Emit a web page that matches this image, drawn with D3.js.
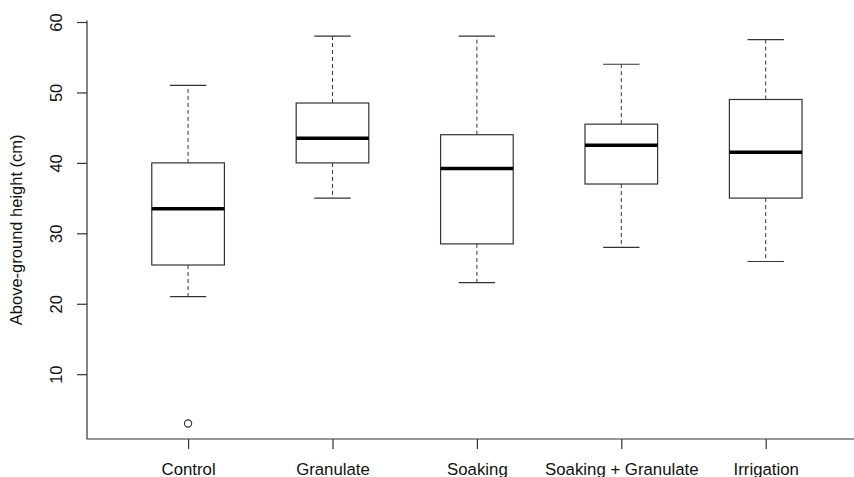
<!DOCTYPE html>
<html>
<head>
<meta charset="utf-8">
<script src="https://cdn.jsdelivr.net/npm/d3@7"></script>
<style>
  body { margin: 0; background: #fff; }
  text { font-family: "Liberation Sans", Arial, sans-serif; fill: #111; }
</style>
</head>
<body>
<div id="chart"></div>
<script>
const width = 854;
const height = 477;

// data
const groups = ["Control", "Granulate", "Soaking", "Soaking + Granulate", "Irrigation"];
const lowerWhisker = [21, 35, 23, 28, 26];
const q1 = [25.5, 40, 28.5, 37, 35];
const medians = [33.5, 43.5, 39.2, 42.5, 41.5];
const q3 = [40, 48.5, 44, 45.5, 49];
const upperWhisker = [51, 58, 58, 54, 57.5];
const outlierGroups = ["Control"];
const outlierValues = [3];
const yTicks = [10, 20, 30, 40, 50, 60];

const boxes = groups.map((g, i) => ({
    name: g, lo: lowerWhisker[i], q1: q1[i], med: medians[i], q3: q3[i], hi: upperWhisker[i]
}));

const x = d3.scalePoint()
    .domain(groups)
    .range([87, 866.8])
    .padding(0.7);

const y = d3.scaleLinear()
    .domain([0.8, 60.2])
    .range([439, 20.6]);

const boxW = x.step() * 0.503;
const capW = boxW / 2;
const lineCol = "#333";

const svg = d3.select("#chart")
    .append("svg")
        .attr("width", width)
        .attr("height", height);

// L-shaped frame
svg.append("path")
    .attr("d", `M${x.range()[0]},${y.range()[1]}V${y.range()[0]}H${x.range()[1]}`)
    .attr("fill", "none")
    .attr("stroke", lineCol)
    .attr("stroke-width", 1.2);

// y axis
const yAxis = svg.append("g")
    .attr("transform", `translate(${x.range()[0]},0)`)
    .call(d3.axisLeft(y).tickValues(yTicks).tickSize(10).tickPadding(0));
yAxis.select(".domain").remove();
yAxis.selectAll(".tick line").attr("stroke", lineCol).attr("stroke-width", 1.2);
yAxis.selectAll(".tick text")
    .attr("x", null).attr("dy", null)
    .attr("transform", "translate(-25,0) rotate(-90)")
    .attr("text-anchor", "middle")
    .style("font-size", "16.5px")
    .style("font-family", "'Liberation Sans', Arial, sans-serif")
    .attr("fill", "#111");

// x axis
const xAxis = svg.append("g")
    .attr("transform", `translate(0,${y.range()[0]})`)
    .call(d3.axisBottom(x).tickSize(10).tickPadding(0));
xAxis.select(".domain").remove();
xAxis.selectAll(".tick line").attr("stroke", lineCol).attr("stroke-width", 1.2);
xAxis.selectAll(".tick text")
    .attr("y", 36).attr("dy", null)
    .style("font-size", "16.8px")
    .style("font-family", "'Liberation Sans', Arial, sans-serif")
    .attr("fill", "#111");

// y label
svg.append("text")
    .attr("transform", `translate(22,${(y.range()[0] + y.range()[1]) / 2}) rotate(-90)`)
    .attr("text-anchor", "middle")
    .style("font-size", "16.5px")
    .text("Above-ground height (cm)");

// boxes
const g = svg.append("g")
    .selectAll("g")
    .data(boxes)
    .join("g")
        .attr("transform", d => `translate(${x(d.name)},0)`);

// whiskers
g.append("line")
    .attr("y1", d => y(d.q3)).attr("y2", d => y(d.hi))
    .attr("stroke", lineCol).attr("stroke-dasharray", "4,3");
g.append("line")
    .attr("y1", d => y(d.q1)).attr("y2", d => y(d.lo))
    .attr("stroke", lineCol).attr("stroke-dasharray", "4,3");

// caps
g.append("line")
    .attr("x1", -capW / 2).attr("x2", capW / 2)
    .attr("y1", d => y(d.hi)).attr("y2", d => y(d.hi))
    .attr("stroke", lineCol).attr("stroke-width", 1.2);
g.append("line")
    .attr("x1", -capW / 2).attr("x2", capW / 2)
    .attr("y1", d => y(d.lo)).attr("y2", d => y(d.lo))
    .attr("stroke", lineCol).attr("stroke-width", 1.2);

g.append("rect")
    .attr("x", -boxW / 2)
    .attr("width", boxW)
    .attr("y", d => y(d.q3))
    .attr("height", d => y(d.q1) - y(d.q3))
    .attr("fill", "#fff")
    .attr("stroke", lineCol)
    .attr("stroke-width", 1.2);

g.append("line")
    .attr("x1", -boxW / 2).attr("x2", boxW / 2)
    .attr("y1", d => y(d.med)).attr("y2", d => y(d.med))
    .attr("stroke", "#000").attr("stroke-width", 3.5);

// outliers
svg.append("g")
    .selectAll("circle")
    .data(outlierValues)
    .join("circle")
        .attr("cx", (d, i) => x(outlierGroups[i]))
        .attr("cy", d => y(d))
        .attr("r", 3.6)
        .attr("fill", "none")
        .attr("stroke", lineCol)
        .attr("stroke-width", 1.1);
</script>
</body>
</html>
